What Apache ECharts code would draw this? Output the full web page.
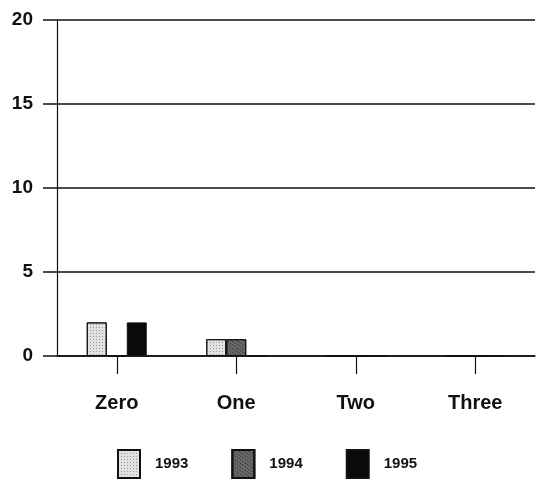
<!DOCTYPE html>
<html><head><meta charset="utf-8">
<script src="https://cdn.jsdelivr.net/npm/echarts@6/dist/echarts.min.js"></script>
<style>html,body{margin:0;padding:0;background:#fff}#c{width:539px;height:480px}</style>
</head><body><div id="c"></div>
<script>
const categories = ['Zero', 'One', 'Two', 'Three'];
const seriesNames = ['1993', '1994', '1995'];
const values1993 = [2, 1, 0, 0];
const values1994 = [0, 1, 0, 0];
const values1995 = [2, 0, 0, 0];
const yTicks = [0, 5, 10, 15, 20];

const colors = ['#e2e2e2', '#6a6a6a', '#0a0a0a'];
const decals = [
  {symbol: 'rect', symbolSize: 1, color: 'rgba(90,90,90,0.55)', dashArrayX: [1, 2], dashArrayY: [1, 2], rotation: 0},
  {symbol: 'rect', symbolSize: 1, color: 'rgba(20,20,20,0.7)', dashArrayX: [1, 1], dashArrayY: [1, 2], rotation: 0.6},
  'none'
];
const allValues = [values1993, values1994, values1995];
const font = '"Liberation Sans", Arial, sans-serif';

const chart = echarts.init(document.getElementById('c'), null, {renderer: 'canvas'});
chart.setOption({
  animation: false,
  backgroundColor: '#fff',
  grid: {left: 57, right: 4, top: 20, bottom: 124},
  legend: {
    left: 117, top: 449, padding: 0,
    itemWidth: 22, itemHeight: 28, itemGap: 43,
    icon: 'rect',
    data: seriesNames,
    textStyle: {fontFamily: font, fontWeight: 'bold', fontSize: 15, color: '#111', padding: [0, 0, 0, 10]}
  },
  xAxis: {
    type: 'category',
    data: categories,
    boundaryGap: true,
    axisLine: {show: true, lineStyle: {color: '#111', width: 1.5}},
    axisTick: {show: true, alignWithLabel: true, length: 18, lineStyle: {color: '#111', width: 1.2}},
    axisLabel: {margin: 37, fontFamily: font, fontWeight: 'bold', fontSize: 20, color: '#111'},
    splitLine: {show: false}
  },
  yAxis: {
    type: 'value',
    min: yTicks[0], max: yTicks[yTicks.length - 1], interval: 5,
    axisLine: {show: true, lineStyle: {color: '#111', width: 1.2}},
    axisTick: {show: true, length: 14, lineStyle: {color: '#111', width: 1.5}},
    axisLabel: {margin: 24, fontFamily: font, fontWeight: 'bold', fontSize: 19, color: '#111'},
    splitLine: {show: true, lineStyle: {color: '#111', width: 1.5}}
  },
  series: seriesNames.map((n, i) => ({
    name: n,
    type: 'bar',
    data: allValues[i],
    barWidth: 20,
    barGap: '0%',
    itemStyle: {color: colors[i], borderColor: '#111', borderWidth: 1, decal: decals[i] === 'none' ? undefined : decals[i]}
  }))
});
</script></body></html>
